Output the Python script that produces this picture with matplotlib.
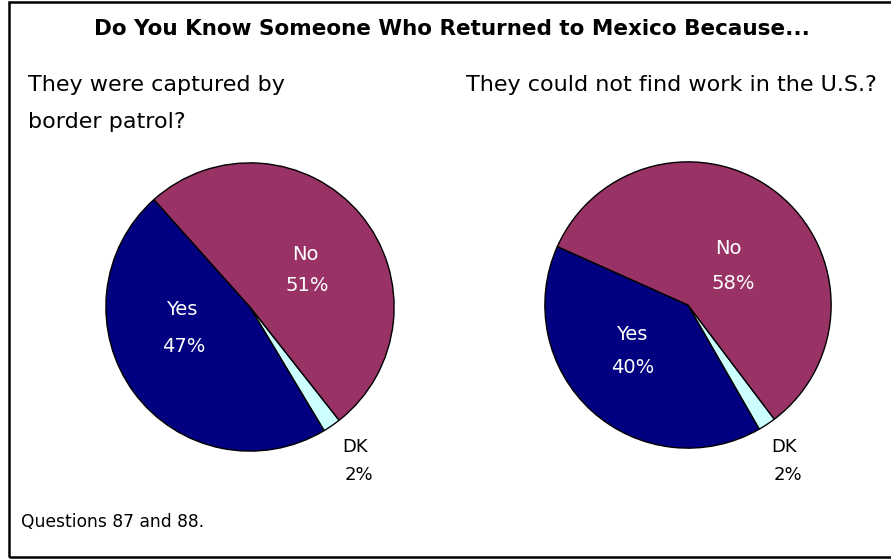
import matplotlib
matplotlib.use("Agg")
import matplotlib.pyplot as plt
from matplotlib.patches import Rectangle

W, H = 891, 559

title = "Do You Know Someone Who Returned to Mexico Because..."
question_left = ["They were captured by", "border patrol?"]
question_right = "They could not find work in the U.S.?"
categories = ["Yes", "DK", "No"]
captured = [47, 2, 51]
no_work = [40, 2, 58]
colors = ["#000080", "#CCFFFF", "#993366"]
footnote = "Questions 87 and 88."

plt.rcParams['font.family'] = ['DejaVu Sans']


def fx(px):
    return px / W


def fy(py):
    return 1 - py / H


def draw_pie(fig, cx, cy, r, values, start, name_pos, pct_pos):
    ax = fig.add_axes([fx(cx - r), fy(cy + r), 2 * r / W, 2 * r / H])
    ax.pie(values, colors=colors, startangle=start, counterclock=True, radius=1,
           wedgeprops=dict(edgecolor="black", linewidth=1.0))
    ax.set_xlim(-1.02, 1.02)
    ax.set_ylim(-1.02, 1.02)
    ax.axis("off")
    for cat, val, npos, ppos in zip(categories, values, name_pos, pct_pos):
        col = "black" if cat == "DK" else "white"
        size = 13 if cat == "DK" else 14
        ax.text(npos[0], npos[1], cat, color=col, fontsize=size,
                ha="center", va="center", clip_on=False)
        ax.text(ppos[0], ppos[1], f"{val}%", color=col, fontsize=size,
                ha="center", va="center", clip_on=False)
    return ax


fig = plt.figure(figsize=(W / 100, H / 100), dpi=100)

fig.patches.append(Rectangle((fx(9), fy(557)), fx(900) - fx(9), fy(2) - fy(557),
                             transform=fig.transFigure, fill=False,
                             edgecolor="black", linewidth=1.8))

fig.text(fx(452), fy(29), title, fontsize=15.5, fontweight="bold", ha="center", va="center")
fig.text(fx(28), fy(85), question_left[0], fontsize=16, ha="left", va="center")
fig.text(fx(28), fy(122), question_left[1], fontsize=16, ha="left", va="center")
fig.text(fx(466), fy(85), question_right, fontsize=16, ha="left", va="center")
fig.text(fx(21), fy(522), footnote, fontsize=12.3, ha="left", va="center")

# label positions in units of pie radius, relative to the pie centre (Yes, DK, No)
draw_pie(fig, 250, 307, 147, captured, 131.8,
         [(-0.476, -0.02), (0.728, -0.973), (0.381, 0.361)],
         [(-0.463, -0.272), (0.755, -1.163), (0.395, 0.150)])
draw_pie(fig, 688, 305, 146, no_work, 155.9,
         [(-0.390, -0.205), (0.671, -0.993), (0.281, 0.397)],
         [(-0.384, -0.438), (0.699, -1.185), (0.315, 0.151)])

fig.savefig("out.png", dpi=100)
